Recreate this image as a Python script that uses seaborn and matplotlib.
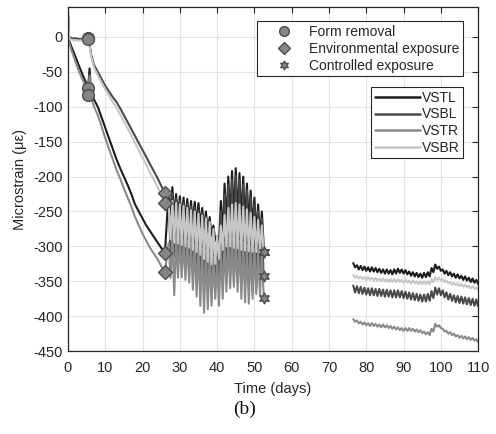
import numpy as np
import pandas as pd
import matplotlib
matplotlib.use("Agg")
import matplotlib.pyplot as plt
import seaborn as sns
from matplotlib.lines import Line2D

# ---------------------------------------------------------------- data
gauges = ["VSTL", "VSBL", "VSTR", "VSBR"]
gauge_colors = ["#1c1c1c", "#4a4a4a", "#8a8a8a", "#c6c6c6"]

# curing period, days 0-26
early_days = [0, 0.3, 1, 2, 3, 4, 5, 5.4, 5.8, 6.2, 7, 8, 9, 10, 11, 12, 13,
              14, 15, 16, 17, 18, 19, 20, 21, 22, 23, 24, 25, 26]
vstl_early = [35, -5, -15, -28, -42, -55, -67, -73, -45, -80, -90, -100, -115,
              -130, -145, -160, -175, -188, -200, -212, -225, -240, -250, -260,
              -270, -278, -286, -294, -302, -310]
vsbl_early = [38, 0, -2, -2, -3, -3, -3, -2, -10, -25, -40, -50, -60, -70, -78,
              -86, -93, -102, -112, -122, -132, -142, -152, -162, -172, -182,
              -192, -202, -213, -224]
vstr_early = [30, -8, -20, -35, -50, -62, -75, -83, -55, -88, -100, -112, -128,
              -145, -160, -175, -190, -203, -217, -230, -243, -258, -270, -282,
              -292, -302, -310, -318, -328, -337]
vsbr_early = [36, -2, -4, -5, -5, -5, -4, -3, -12, -28, -44, -55, -65, -75, -84,
              -93, -101, -111, -121, -131, -141, -152, -162, -173, -183, -194,
              -204, -215, -226, -238]

# environmental exposure, daily maxima / minima for days 27-52
cycle_days = list(range(27, 53))
vstl_cycle_high = [-222, -215, -225, -228, -230, -232, -235, -236, -238, -245,
                   -250, -258, -270, -285, -235, -210, -200, -192, -188, -195,
                   -200, -210, -220, -230, -240, -250]
vstl_cycle_low = [-255, -258, -260, -262, -264, -266, -268, -270, -272, -275,
                  -280, -285, -292, -298, -285, -270, -265, -262, -262, -265,
                  -268, -272, -278, -285, -290, -300]
vsbl_cycle_high = [-228, -225, -232, -235, -238, -240, -243, -245, -248, -252,
                   -258, -265, -275, -290, -250, -225, -212, -205, -200, -205,
                   -212, -220, -230, -240, -250, -260]
vsbl_cycle_low = [-310, -315, -318, -320, -322, -326, -330, -334, -338, -342,
                  -346, -350, -352, -350, -345, -340, -345, -350, -352, -355,
                  -358, -360, -362, -360, -355, -350]
vstr_cycle_high = [-295, -285, -288, -290, -292, -293, -295, -298, -300, -303,
                   -306, -310, -315, -320, -305, -295, -290, -288, -290, -292,
                   -295, -298, -300, -303, -305, -310]
vstr_cycle_low = [-345, -370, -345, -344, -348, -352, -362, -372, -385, -395,
                  -390, -385, -375, -385, -375, -365, -360, -358, -365, -375,
                  -380, -382, -375, -368, -370, -372]
vsbr_cycle_high = [-240, -235, -238, -240, -242, -245, -248, -250, -253, -256,
                   -260, -265, -275, -285, -270, -255, -245, -240, -238, -240,
                   -243, -247, -252, -258, -262, -270]
vsbr_cycle_low = [-290, -295, -296, -298, -300, -302, -305, -308, -312, -318,
                  -322, -326, -325, -318, -305, -300, -300, -302, -303, -305,
                  -306, -307, -308, -308, -308, -308]

cycle_end_day = 52.6
vstl_cycle_end, vsbl_cycle_end, vstr_cycle_end, vsbr_cycle_end = -308, -342, -374, -308

# controlled exposure, daily maxima / minima from day 76.5 on
late_days = np.arange(76.5, 110.0, 1.0)
vstl_late_high = [-324, -327, -328, -329, -330, -330, -331, -332, -333, -333,
                  -334, -333, -332, -333, -334, -336, -337, -338, -339, -338,
                  -337, -331, -326, -329, -333, -335, -337, -339, -340, -342,
                  -343, -345, -346, -348]
vstl_late_low = [-330, -333, -334, -335, -336, -336, -337, -338, -339, -339,
                 -340, -339, -338, -339, -340, -342, -343, -344, -345, -344,
                 -343, -337, -332, -335, -339, -341, -343, -345, -346, -348,
                 -349, -351, -352, -354]
vsbl_late_high = [-356, -357, -358, -359, -360, -360, -361, -361, -362, -362,
                  -363, -363, -363, -364, -365, -366, -367, -368, -369, -369,
                  -368, -364, -359, -360, -363, -366, -368, -370, -371, -372,
                  -373, -374, -375, -376]
vsbl_late_low = [-366, -367, -368, -369, -370, -370, -371, -371, -372, -372,
                 -373, -373, -373, -374, -375, -376, -377, -378, -379, -379,
                 -378, -374, -369, -370, -373, -376, -378, -380, -381, -382,
                 -383, -384, -385, -386]
vstr_late_high = [-404, -406, -408, -409, -410, -410, -411, -412, -412, -413,
                  -414, -415, -416, -417, -417, -417, -418, -419, -420, -422,
                  -423, -418, -411, -413, -418, -421, -423, -425, -427, -428,
                  -429, -430, -431, -433]
vstr_late_low = [-408, -410, -412, -413, -414, -414, -415, -416, -416, -417,
                 -418, -419, -420, -421, -421, -421, -422, -423, -424, -426,
                 -427, -422, -415, -417, -422, -425, -427, -429, -431, -432,
                 -433, -434, -435, -437]
vsbr_late_high = [-341, -342, -343, -344, -344, -345, -345, -346, -346, -347,
                  -347, -347, -347, -348, -348, -349, -349, -350, -350, -350,
                  -350, -347, -344, -345, -347, -349, -351, -352, -353, -354,
                  -355, -356, -357, -359]
vsbr_late_low = [-345, -346, -347, -348, -348, -349, -349, -350, -350, -351,
                 -351, -351, -351, -352, -352, -353, -353, -354, -354, -354,
                 -354, -351, -348, -349, -351, -353, -355, -356, -357, -358,
                 -359, -360, -361, -363]

form_removal_day = 5.4
environmental_day = 26
controlled_day = cycle_end_day

yticks = list(range(-450, 1, 50))
xticks = list(range(0, 111, 10))

series = {
    "VSTL": (vstl_early, vstl_cycle_high, vstl_cycle_low, vstl_cycle_end, vstl_late_high, vstl_late_low),
    "VSBL": (vsbl_early, vsbl_cycle_high, vsbl_cycle_low, vsbl_cycle_end, vsbl_late_high, vsbl_late_low),
    "VSTR": (vstr_early, vstr_cycle_high, vstr_cycle_low, vstr_cycle_end, vstr_late_high, vstr_late_low),
    "VSBR": (vsbr_early, vsbr_cycle_high, vsbr_cycle_low, vsbr_cycle_end, vsbr_late_high, vsbr_late_low),
}

# long-form table: one row per reading, split into two recording segments
rows = []
for name, (early, c_hi, c_lo, c_end, l_hi, l_lo) in series.items():
    for d, v in zip(early_days, early):
        rows.append((name, 0, d, v))
    for d, hi, lo in zip(cycle_days, c_hi, c_lo):
        rows.append((name, 0, d, hi))
        rows.append((name, 0, d + 0.5, lo))
    rows.append((name, 0, cycle_end_day, c_end))
    for d, hi, lo in zip(late_days, l_hi, l_lo):
        rows.append((name, 1, d, hi))
        rows.append((name, 1, d + 0.5, lo))
df = pd.DataFrame(rows, columns=["gauge", "segment", "day", "strain"])

# ---------------------------------------------------------------- style
sns.set_style("white")
plt.rcParams["font.family"] = ["Liberation Sans", "DejaVu Sans"]
plt.rcParams["axes.unicode_minus"] = False
text_color = "#262626"

fig = plt.figure(figsize=(4.96, 4.34), dpi=100)
ax = fig.add_axes([0.137, 0.191, 0.827, 0.793])

sns.lineplot(data=df, x="day", y="strain", hue="gauge", units="segment",
             estimator=None, sort=False, hue_order=gauges,
             palette=dict(zip(gauges, gauge_colors)), linewidth=1.5,
             legend=False, ax=ax)

# event markers, placed on each gauge's own reading
marker_face = "#858585"
marker_edge = "#4d4d4d"
events = [(form_removal_day, "o", 8.5), (environmental_day, "D", 7), (controlled_day, (6, 1, 0), 8)]
for day, mk, ms in events:
    vals = df[np.isclose(df["day"], day) & (df["segment"] == 0)]
    vals = vals.groupby("gauge")["strain"].first()
    ax.plot(np.full(len(vals), day), vals.values, ls="none", marker=mk, ms=ms,
            mfc=marker_face, mec=marker_edge, mew=1.0, zorder=5)

ax.set_xlim(0, 110)
ax.set_ylim(-450, 43)
ax.set_xticks(xticks)
ax.set_yticks(yticks)
ax.grid(True, color="#e3e3e3", linewidth=0.8)
ax.set_axisbelow(True)
for sp in ax.spines.values():
    sp.set_color(text_color)
    sp.set_linewidth(0.9)
ax.tick_params(axis="both", direction="in", top=True, right=True, length=4,
               width=0.8, color=text_color, labelcolor=text_color, labelsize=10.5)
ax.tick_params(axis="x", pad=7)
ax.tick_params(axis="y", pad=4)
ax.set_xlabel("Time (days)", fontsize=10.5, color=text_color, labelpad=5)
ax.set_ylabel("Microstrain (με)", fontsize=10.5, color=text_color, labelpad=4)

# legends
event_handles = [
    Line2D([], [], ls="none", marker="o", ms=7, mfc=marker_face, mec=marker_edge),
    Line2D([], [], ls="none", marker="D", ms=6, mfc=marker_face, mec=marker_edge),
    Line2D([], [], ls="none", marker=(6, 1, 0), ms=6.5, mfc=marker_face, mec=marker_edge),
]
event_labels = ["Form removal", "Environmental exposure", "Controlled exposure"]
leg1 = ax.legend(event_handles, event_labels, loc="upper right",
                 bbox_to_anchor=(0.963, 0.959), borderaxespad=0, fontsize=10,
                 handlelength=3.4, handletextpad=0.1, borderpad=0.25,
                 labelspacing=0.22, fancybox=False, framealpha=1,
                 edgecolor=text_color)
leg1.get_frame().set_linewidth(0.8)
for t in leg1.get_texts():
    t.set_color(text_color)
ax.add_artist(leg1)

gauge_handles = [Line2D([], [], color=c, lw=1.8) for c in gauge_colors]
leg2 = ax.legend(gauge_handles, gauges, loc="upper right",
                 bbox_to_anchor=(0.963, 0.767), borderaxespad=0, fontsize=10,
                 handlelength=3.3, handletextpad=0.1, borderpad=0.25,
                 labelspacing=0.2, fancybox=False, framealpha=1,
                 edgecolor=text_color)
leg2.get_frame().set_linewidth(0.8)
for t in leg2.get_texts():
    t.set_color(text_color)

fig.text(245 / 496, 1 - 409 / 434, "(b)", ha="center", va="center",
         fontsize=14, family=["Liberation Serif", "DejaVu Serif"], color="#111111")

fig.savefig("out.png", dpi=100)
